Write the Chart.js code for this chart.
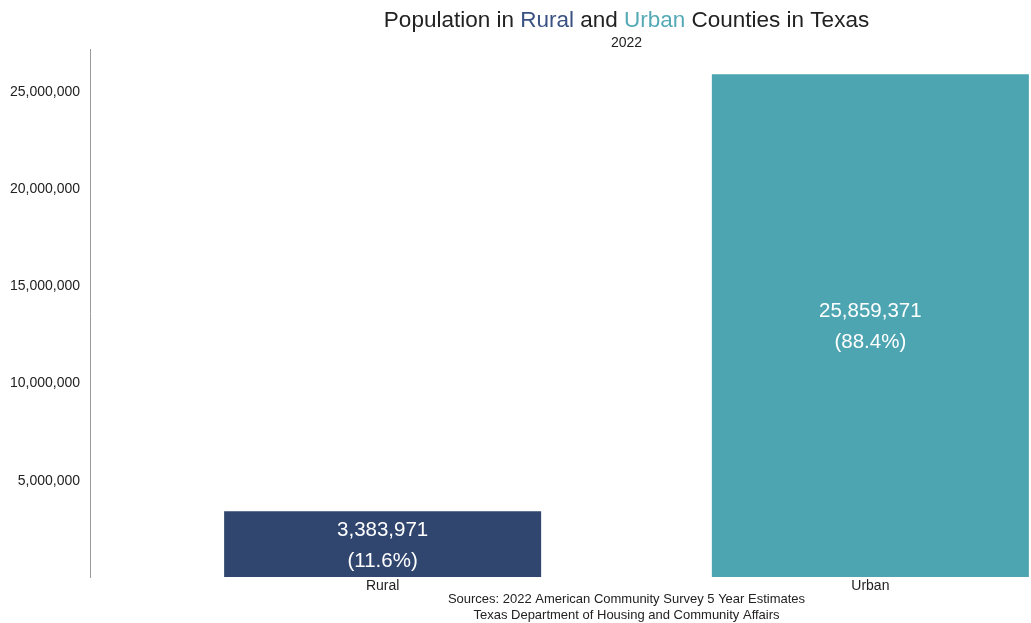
<!DOCTYPE html>
<html>
<head>
<meta charset="utf-8">
<script src="https://cdn.jsdelivr.net/npm/chart.js@4.4.1/dist/chart.umd.min.js"></script>
<style>
  html, body { margin: 0; padding: 0; overflow: hidden; background: #ffffff; }
  #wrap { position: relative; width: 1163px; height: 623px; }
</style>
</head>
<body>
<div id="wrap"><canvas id="c"></canvas></div>
<script>
const categories = ['Rural', 'Urban'];
const populations = [3383971, 25859371];
const barColors = ['#30466F', '#4DA5B2'];
const yTickValues = [5000000, 10000000, 15000000, 20000000, 25000000];
const yMax = 27152340;
const titleParts = [
  { text: 'Population in ', color: '#222222' },
  { text: 'Rural', color: '#3A5282' },
  { text: ' and ', color: '#222222' },
  { text: 'Urban', color: '#55AAB6' },
  { text: ' Counties in Texas', color: '#222222' }
];
const subtitleText = '2022';
const sourceLines = [
  'Sources: 2022 American Community Survey 5 Year Estimates',
  'Texas Department of Housing and Community Affairs'
];

const FONT = '"Liberation Sans", Arial, sans-serif';
const total = populations.reduce((a, b) => a + b, 0);

const textPlugin = {
  id: 'texts',
  afterDraw(chart) {
    const ctx = chart.ctx;
    const ca = chart.chartArea;
    const cx = (ca.left + ca.right) / 2;
    ctx.save();
    ctx.font = '22.5px ' + FONT;
    ctx.textBaseline = 'alphabetic';
    ctx.textAlign = 'left';
    const widths = titleParts.map(p => ctx.measureText(p.text).width);
    const tw = widths.reduce((a, b) => a + b, 0);
    let x = cx - tw / 2;
    titleParts.forEach((p, i) => {
      ctx.fillStyle = p.color;
      ctx.fillText(p.text, x, 27);
      x += widths[i];
    });
    ctx.textAlign = 'center';
    ctx.font = '14px ' + FONT;
    ctx.fillStyle = '#222222';
    ctx.fillText(subtitleText, cx, 47);
    ctx.font = '13px ' + FONT;
    ctx.fillStyle = '#222222';
    ctx.fillText(sourceLines[0], cx, 603);
    ctx.fillText(sourceLines[1], cx, 619);
    const meta = chart.getDatasetMeta(0);
    ctx.font = '20.5px ' + FONT;
    ctx.fillStyle = '#ffffff';
    ctx.textBaseline = 'middle';
    meta.data.forEach((bar, i) => {
      const mid = (bar.y + bar.base) / 2 + 1.5;
      const pct = (populations[i] / total * 100).toFixed(1);
      ctx.fillText(populations[i].toLocaleString('en-US'), bar.x, mid - 15.5);
      ctx.fillText('(' + pct + '%)', bar.x, mid + 15.5);
    });
    ctx.restore();
  }
};

new Chart(document.getElementById('c'), {
  type: 'bar',
  data: {
    datasets: [{
      data: categories.map((c, i) => ({ x: i + 1, y: populations[i] })),
      backgroundColor: barColors,
      borderWidth: 0,
      categoryPercentage: 1,
      barPercentage: 0.65
    }]
  },
  options: {
    responsive: true,
    maintainAspectRatio: false,
    animation: false,
    layout: { padding: { top: 49, left: 0, right: 0, bottom: 0 } },
    plugins: { legend: { display: false }, tooltip: { enabled: false }, title: { display: false } },
    scales: {
      x: {
        type: 'linear',
        min: 0.4,
        max: 2.6,
        offset: false,
        grid: { display: false, drawTicks: false, offset: false },
        border: { display: false },
        afterBuildTicks: (s) => { s.ticks = categories.map((c, i) => ({ value: i + 1 })); },
        afterFit: (s) => { s.height = 46; },
        ticks: {
          padding: 1,
          maxRotation: 0,
          autoSkip: false,
          color: '#222222',
          font: { family: FONT, size: 14 },
          callback: (v) => categories[Math.round(v) - 1] || ''
        }
      },
      y: {
        min: 0,
        max: yMax,
        grid: { display: false, drawTicks: false },
        border: { display: true, color: '#9a9a9a', width: 1 },
        afterBuildTicks: (s) => { s.ticks = yTickValues.map(v => ({ value: v })); },
        afterFit: (s) => { s.width = 90; },
        ticks: {
          padding: 10,
          labelOffset: 1,
          color: '#222222',
          font: { family: FONT, size: 14 },
          callback: (v) => Number(v).toLocaleString('en-US')
        }
      }
    }
  },
  plugins: [textPlugin]
});
</script>
</body>
</html>
